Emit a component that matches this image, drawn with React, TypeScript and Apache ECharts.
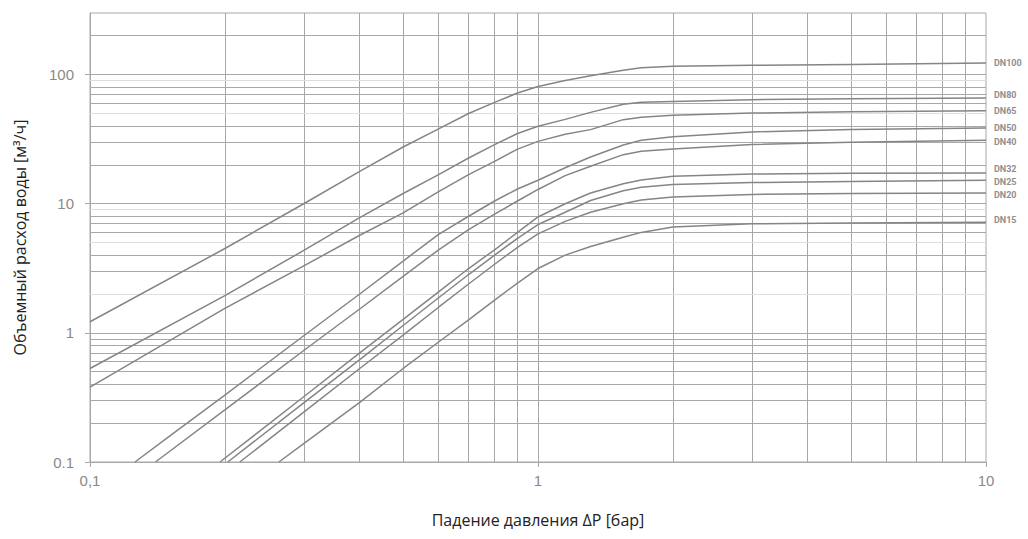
import React, { useEffect, useRef } from "react";
import * as echarts from "echarts";

// ---- data ----
const X_UPPER = [0.1, 0.2, 0.3, 0.4, 0.5, 0.6, 0.7, 0.8, 0.9, 1, 1.15, 1.31, 1.55, 1.7, 2, 3, 5, 10];
const DN100 = [1.22, 4.5, 10, 17.8, 27.5, 38, 50, 61, 72, 81, 90, 98, 108, 113, 116, 118, 120, 123];
const DN80 = [0.53, 1.94, 4.35, 7.8, 12, 16.8, 22.6, 28.7, 35, 39.8, 45, 51, 59, 61, 62, 64, 65, 66];
const DN65 = [0.38, 1.55, 3.3, 5.7, 8.5, 12.4, 16.8, 21.3, 26.5, 30.4, 34.5, 37.5, 44.8, 46.8, 48.4, 50.4, 51.5, 52.6];

const X_DN50 = [0.126, 0.15, 0.2, 0.3, 0.4, 0.5, 0.6, 0.7, 0.8, 0.9, 1, 1.15, 1.31, 1.55, 1.7, 2, 3, 5, 10];
const DN50 = [0.1, 0.157, 0.33, 0.95, 2.0, 3.6, 5.8, 8.0, 10.5, 13, 15.2, 19, 23, 28.5, 31, 33, 36, 37.5, 38.6];

const X_DN40 = [0.14, 0.2, 0.3, 0.4, 0.5, 0.6, 0.7, 0.8, 0.9, 1, 1.15, 1.31, 1.55, 1.7, 2, 3, 5, 10];
const DN40 = [0.1, 0.253, 0.73, 1.53, 2.74, 4.4, 6.3, 8.3, 10.5, 12.9, 16.5, 19.5, 24, 25.5, 26.5, 28.7, 30, 31];

const X_TAIL = [0.3, 0.4, 0.5, 0.6, 0.7, 0.8, 0.9, 1, 1.15, 1.31, 1.55, 1.7, 2, 3, 5, 10];
const X_DN32 = [0.195, ...X_TAIL];
const DN32 = [0.1, 0.32, 0.7, 1.27, 2.08, 3.15, 4.4, 6.0, 7.9, 10.0, 12.1, 14.3, 15.3, 16.3, 17, 17.2, 17.3];
const X_DN25 = [0.203, ...X_TAIL];
const DN25 = [0.1, 0.287, 0.62, 1.14, 1.87, 2.83, 4.0, 5.4, 6.9, 8.6, 10.6, 12.6, 13.4, 14.1, 14.6, 14.9, 15.2];
const X_DN20 = [0.216, ...X_TAIL];
const DN20 = [0.1, 0.243, 0.53, 0.96, 1.58, 2.39, 3.4, 4.6, 5.85, 7.3, 8.6, 10.0, 10.7, 11.3, 11.8, 12, 12.1];
const X_DN15 = [0.264, ...X_TAIL];
const DN15 = [0.1, 0.139, 0.29, 0.53, 0.85, 1.26, 1.79, 2.43, 3.15, 4.0, 4.67, 5.5, 6.0, 6.6, 7.0, 7.1, 7.2];

const SERIES_NAMES = ["DN100", "DN80", "DN65", "DN50", "DN40", "DN32", "DN25", "DN20", "DN15"];
const SERIES_X = [X_UPPER, X_UPPER, X_UPPER, X_DN50, X_DN40, X_DN32, X_DN25, X_DN20, X_DN15];
const SERIES_Y = [DN100, DN80, DN65, DN50, DN40, DN32, DN25, DN20, DN15];
const LABEL_DY = [0, -3, 0, 0, 2, -4, 2, 2, -2];

const Y_MAJOR = [0.1, 1, 10, 100];
const X_GRID = [0.2, 0.3, 0.4, 0.5, 0.6, 0.7, 0.8, 0.9, 1, 2, 3, 4, 5, 6, 7, 8, 9];
const Y_GRID = [0.2, 0.3, 0.4, 0.5, 0.6, 0.7, 0.8, 0.9, 1, 2, 3, 4, 5, 6, 7, 8, 9, 10, 20, 30, 40, 50, 60, 70, 80, 90, 100, 200];
const Y_GRID_FAINT = [2, 5, 9, 50, 90];

const GRID_COLOR = "#a8a8a8";
const FAINT_COLOR = "#dedede";
const CURVE_COLOR = "#858585";

export default function App() {
  const ref = useRef<HTMLDivElement>(null);
  useEffect(() => {
    if (!ref.current) return;
    const chart = echarts.init(ref.current, null, { renderer: "svg" });

    const gridLines: any[] = [];
    X_GRID.forEach((v) =>
      gridLines.push({ xAxis: v, lineStyle: { color: GRID_COLOR, width: 1, type: "solid" } })
    );
    Y_GRID.forEach((v) =>
      gridLines.push({
        yAxis: v,
        lineStyle: { color: Y_GRID_FAINT.includes(v) ? FAINT_COLOR : GRID_COLOR, width: 1, type: "solid" },
      })
    );

    const curves = SERIES_NAMES.map((name, i) => ({
      name,
      type: "line",
      data: SERIES_X[i].map((x, j) => [x, SERIES_Y[i][j]]),
      showSymbol: false,
      smooth: false,
      z: 5,
      silent: true,
      lineStyle: { color: CURVE_COLOR, width: 1.5 },
      endLabel: {
        show: true,
        formatter: "{a}",
        color: "#8f8f8f",
        fontSize: 9,
        fontWeight: "bold",
        fontFamily: "Roboto",
        distance: 8,
        offset: [0, LABEL_DY[i]],
      },
    }));

    const option: any = {
      animation: false,
      backgroundColor: "#ffffff",
      grid: { left: 90, right: 42, top: 13, bottom: 77, show: true, borderColor: GRID_COLOR, borderWidth: 1 },
      xAxis: {
        type: "log",
        logBase: 10,
        min: 0.1,
        max: 10,
        axisLine: { show: true, lineStyle: { color: GRID_COLOR } },
        axisTick: { show: true, length: 5, lineStyle: { color: GRID_COLOR } },
        splitLine: { show: false },
        axisLabel: {
          color: "#8a8a8a",
          fontSize: 15,
          fontFamily: "Liberation Sans",
          margin: 11,
          formatter: (v: number) => (v < 0.5 ? "0,1" : String(Math.round(v))),
        },
        name: "Падение давления ΔP [бар]",
        nameLocation: "middle",
        nameGap: 50,
        nameTextStyle: { color: "#222", fontSize: 16, fontFamily: "Open Sans" },
      },
      yAxis: {
        type: "log",
        logBase: 10,
        min: 0.1,
        max: 300,
        axisLine: { show: true, lineStyle: { color: GRID_COLOR } },
        axisTick: { show: true, length: 5, customValues: Y_MAJOR, lineStyle: { color: GRID_COLOR } },
        splitLine: { show: false },
        axisLabel: {
          color: "#8a8a8a",
          fontSize: 15,
          fontFamily: "Liberation Sans",
          margin: 16,
          customValues: Y_MAJOR,
          formatter: (v: number) => (v < 0.5 ? "0.1" : String(Math.round(v))),
        },
        name: "Объемный расход воды [м³/ч]",
        nameLocation: "middle",
        nameGap: 62,
        nameTextStyle: { color: "#222", fontSize: 16, fontFamily: "Open Sans" },
      },
      series: [
        {
          name: "grid",
          type: "line",
          data: [],
          silent: true,
          z: 1,
          markLine: {
            silent: true,
            symbol: ["none", "none"],
            label: { show: false },
            emphasis: { disabled: true },
            animation: false,
            data: gridLines,
          },
        },
        ...curves,
      ],
    };
    chart.setOption(option);
    return () => chart.dispose();
  }, []);
  return (
    <div
      ref={ref}
      style={{ position: "absolute", left: 0, top: 0, width: 1028, height: 539 }}
    />
  );
}
